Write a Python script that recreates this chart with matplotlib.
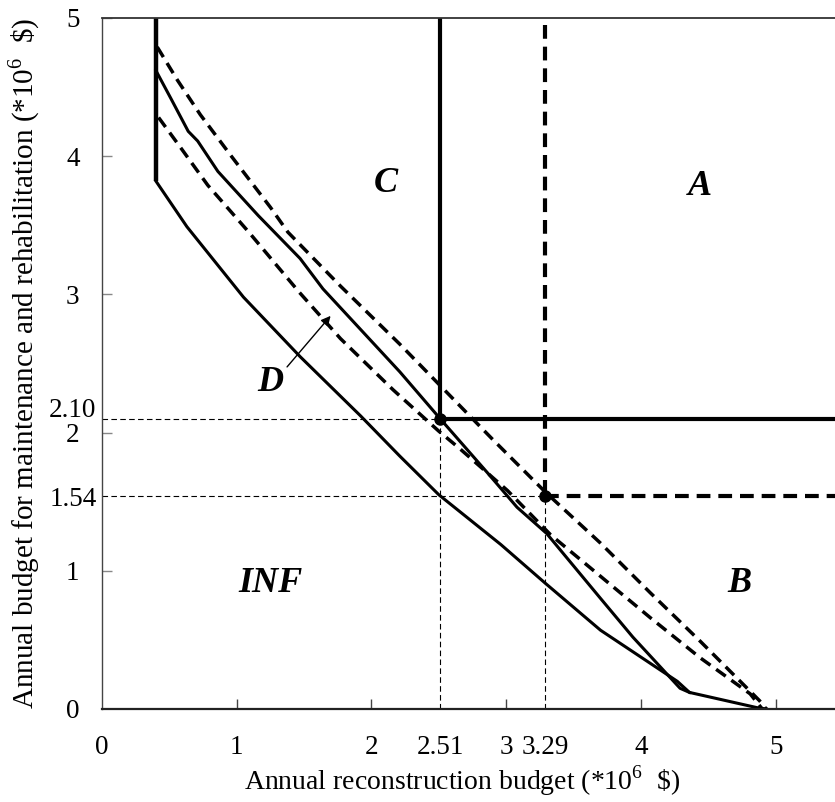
import matplotlib
matplotlib.use('Agg')
import matplotlib.pyplot as plt
from matplotlib.transforms import ScaledTranslation

# curves (x: reconstruction, y: M&R budget, *10^6 $)
lower_x = [0.40, 0.63, 1.05, 1.47, 1.92, 2.21, 2.50, 2.96, 3.29, 3.70, 4.27, 4.36, 4.86, 4.93]
lower_y = [3.82, 3.49, 2.98, 2.55, 2.12, 1.83, 1.55, 1.19, 0.91, 0.57, 0.20, 0.12, 0.01, 0.0]

middle_x = [0.40, 0.51, 0.64, 0.71, 0.86, 1.16, 1.47, 1.64, 2.21, 2.51, 2.86, 3.08, 3.30, 3.70, 3.94, 4.29, 4.36]
middle_y = [4.62, 4.42, 4.18, 4.11, 3.89, 3.57, 3.26, 3.04, 2.44, 2.10, 1.71, 1.46, 1.27, 0.80, 0.52, 0.15, 0.12]

upper_dash_x = [0.41, 0.56, 0.73, 0.96, 1.25, 1.38, 1.77, 2.21, 2.56, 2.90, 3.29, 3.70, 4.07, 4.44, 4.88, 4.93]
upper_dash_y = [4.79, 4.55, 4.30, 4.00, 3.63, 3.45, 3.06, 2.64, 2.29, 1.95, 1.57, 1.20, 0.84, 0.49, 0.06, 0.0]

lower_dash_x = [0.42, 0.585, 0.785, 1.09, 1.46, 1.77, 2.16, 2.50, 2.66, 3.01, 3.33, 3.70, 4.07, 4.44, 4.81, 4.90]
lower_dash_y = [4.28, 4.06, 3.79, 3.45, 3.02, 2.68, 2.31, 2.01, 1.88, 1.58, 1.26, 0.96, 0.66, 0.37, 0.11, 0.0]

wall_x = 0.40
wall_top = 5.0

opt_solid = (2.51, 2.10)
opt_dash = (3.29, 1.54)

x_ticks = [0, 1, 2, 2.51, 3, 3.29, 4, 5]
x_labels = ['0', '1', '2', '2.51', '3', '3.29', '4', '5']
y_ticks = [0, 1, 1.54, 2, 2.10, 3, 4, 5]
y_labels = ['0', '1', '1.54', '2', '2.10', '3', '4', '5']

regions = ['C', 'A', 'B', 'INF', 'D']
region_x = [2.11, 4.44, 4.73, 1.25, 1.25]
region_y = [3.80, 3.78, 0.91, 0.91, 2.36]

plt.rcParams['font.family'] = ['Liberation Serif', 'DejaVu Serif']
plt.rcParams['mathtext.fontset'] = 'custom'
plt.rcParams['mathtext.rm'] = 'Liberation Serif'

fig = plt.figure(figsize=(8.35, 8.02), dpi=100)
ax = fig.add_axes([102 / 835, 93 / 802, 733 / 835, 691 / 802])

x_max = 5.44
ax.set_xlim(0, x_max)
ax.set_ylim(0, 5)

# thin dotted guide lines
guide = dict(color='k', lw=0.8, linestyle=(0, (5, 3)))
ax.plot([0, opt_solid[0]], [opt_solid[1], opt_solid[1]], **guide)
ax.plot([opt_solid[0], opt_solid[0]], [0, opt_solid[1]], **guide)
ax.plot([0, opt_dash[0]], [opt_dash[1], opt_dash[1]], **guide)
ax.plot([opt_dash[0], opt_dash[0]], [0, opt_dash[1]], **guide)

# curves
ax.plot([wall_x, wall_x], [wall_top, lower_y[0]], color='k', lw=3.2, solid_capstyle='butt')
ax.plot(lower_x, lower_y, color='k', lw=2.2)
ax.plot(middle_x, middle_y, color='k', lw=2.2)
ax.plot(upper_dash_x, upper_dash_y, color='k', lw=2.5, linestyle=(0, (3.4, 2)))
ax.plot(lower_dash_x, lower_dash_y, color='k', lw=2.5, linestyle=(0, (3.4, 2)))

# boundary lines from the optimum points
ax.plot([opt_solid[0], opt_solid[0]], [5, opt_solid[1]], color='k', lw=3)
ax.plot([opt_solid[0], x_max], [opt_solid[1], opt_solid[1]], color='k', lw=3)
ax.plot([opt_dash[0], opt_dash[0]], [4.95, opt_dash[1]], color='k', lw=3, linestyle=(0, (3.3, 1.9)))
ax.plot([opt_dash[0], x_max], [opt_dash[1], opt_dash[1]], color='k', lw=3, linestyle=(0, (3.3, 1.9)))

ax.plot(*opt_solid, 'o', color='k', ms=8)
ax.plot(*opt_dash, 'o', color='k', ms=8)

for name, tx, ty in zip(regions, region_x, region_y):
    ax.text(tx, ty, name, fontsize=26, fontweight='bold', fontstyle='italic',
            ha='center', va='center')

ax.annotate('', xy=(1.71, 2.86), xytext=(1.36, 2.46),
            arrowprops=dict(arrowstyle='-|>', color='k', lw=1, mutation_scale=14))

ax.set_xticks(x_ticks)
ax.set_xticklabels(x_labels)
ax.set_yticks(y_ticks)
ax.set_yticklabels(y_labels, ha='center')
ax.tick_params(axis='x', direction='in', length=7, width=1, color='#444444',
               labelsize=19.5, pad=19)
ax.tick_params(axis='y', direction='in', length=7, width=1, color='#888888',
               labelsize=19.5, pad=21)

for tick, val in zip(ax.xaxis.get_major_ticks(), x_ticks):
    if val in (0, 2.51, 3.29):
        tick.tick1line.set_visible(False)
for tick, val in zip(ax.yaxis.get_major_ticks(), y_ticks):
    if val in (0, 1.54, 2.10):
        tick.tick1line.set_visible(False)
    if val == 2.10:
        lab = tick.label1
        lab.set_transform(lab.get_transform() + ScaledTranslation(0, 8 / 72, fig.dpi_scale_trans))

ax.spines['right'].set_visible(False)
ax.spines['top'].set_color('#333333')
ax.spines['top'].set_linewidth(1.3)
ax.spines['left'].set_color('#444444')
ax.spines['left'].set_linewidth(1.0)
ax.spines['bottom'].set_color('#222222')
ax.spines['bottom'].set_linewidth(1.6)

ax.set_xlabel('Annual reconstruction budget (*10$^6$  \\$)', fontsize=20, va='baseline')
ax.xaxis.set_label_coords((462 - 102) / 733, -(790 - 709) / 691)
ax.set_ylabel('Annual budget for maintenance and rehabilitation (*10$^6$  \\$)',
              fontsize=21)
ax.yaxis.label.set_rotation_mode('anchor')
ax.yaxis.label.set_va('baseline')
ax.yaxis.set_label_coords(-(102 - 33) / 733, 0.5)

fig.savefig('out.png', dpi=100)
